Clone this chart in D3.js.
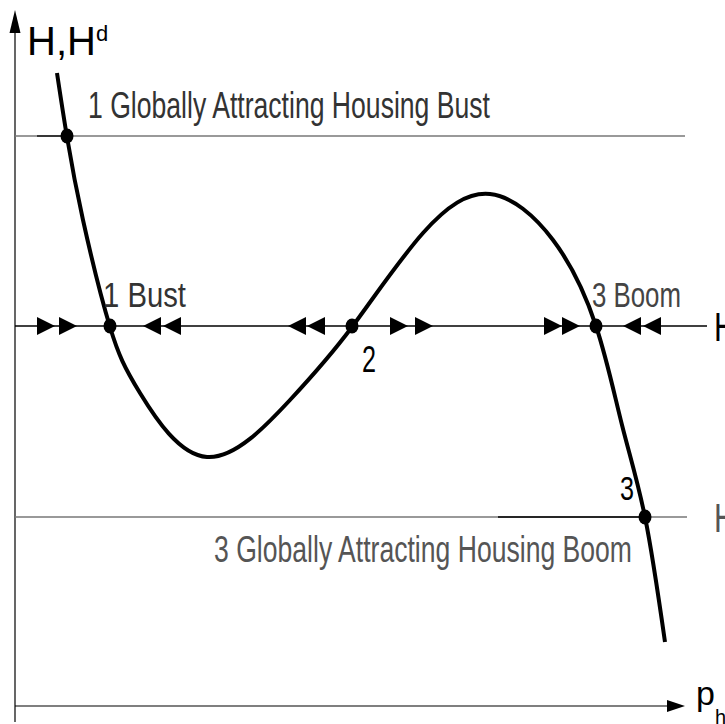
<!DOCTYPE html>
<html>
<head>
<meta charset="utf-8">
<script src="https://cdn.jsdelivr.net/npm/d3@7"></script>
<style>
  body { margin: 0; background: #fff; }
  text { font-family: "Liberation Sans Narrow", "Arial Narrow", "Liberation Sans", sans-serif; }
</style>
</head>
<body>
<div id="chart"></div>
<script>
// schematic curve H^d(p_h) (units: px from the axes)
var curveX = [42, 52, 68, 95, 125, 192, 275, 337, 408, 475, 538, 581, 607, 630, 650];
var curveY = [633, 569, 486, 379, 313, 249, 306, 379, 473, 512, 466, 380, 281, 189, 64];

// the three supply levels
var levelY = [570, 380, 189];
var levelEnd = [670, 692, 672];
var levelColor = ["#777", "#000", "#777"];

// equilibria (intersections)
var eqX = [52, 95, 337, 581, 630];
var eqY = [570, 380, 380, 380, 189];

// arrow tips on the middle line (+1 right, -1 left)
var arrowTip = [40, 62, 128, 148, 273, 292, 393, 418, 547, 565, 608, 628];
var arrowDir = [1, 1, -1, -1, -1, -1, 1, 1, 1, 1, -1, -1];

var w = 725, h = 724;
var x = d3.scaleLinear().domain([0, 670]).range([15, 685]);
var y = d3.scaleLinear().domain([0, 696]).range([706, 10]);

var svg = d3.select("#chart").append("svg")
  .attr("width", w).attr("height", h);

// axes
svg.append("line").attr("x1", x(0)).attr("y1", 722).attr("x2", x(0)).attr("y2", 30)
  .attr("stroke", "#000").attr("stroke-width", 1.2);
svg.append("path").attr("d", "M" + x(0) + ",10 L" + (x(0) - 5.5) + ",33 L" + (x(0) + 5.5) + ",33 Z")
  .attr("fill", "#000");
svg.append("line").attr("x1", x(0)).attr("y1", y(0)).attr("x2", 668).attr("y2", y(0))
  .attr("stroke", "#000").attr("stroke-width", 1.2);
svg.append("path").attr("d", "M685," + y(0) + " L667," + (y(0) - 6) + " L667," + (y(0) + 6) + " Z")
  .attr("fill", "#000");

// horizontal levels
svg.selectAll("line.level").data(levelY).enter().append("line")
  .attr("class", "level")
  .attr("x1", x(0)).attr("x2", function(d, i) { return x(levelEnd[i]); })
  .attr("y1", function(d) { return y(d); }).attr("y2", function(d) { return y(d); })
  .attr("stroke", function(d, i) { return levelColor[i]; })
  .attr("stroke-width", 1.3);
// darker pieces seen on the grey lines
svg.append("line").attr("x1", 37).attr("x2", 66).attr("y1", y(levelY[0])).attr("y2", y(levelY[0]))
  .attr("stroke", "#000").attr("stroke-width", 1.3);
svg.append("line").attr("x1", 498).attr("x2", 645).attr("y1", y(levelY[2])).attr("y2", y(levelY[2]))
  .attr("stroke", "#000").attr("stroke-width", 1.3);

// arrows
svg.selectAll("path.arrow").data(arrowTip).enter().append("path")
  .attr("class", "arrow")
  .attr("d", function(d, i) {
    var tx = x(d), ty = y(levelY[1]), bx = tx - arrowDir[i] * 18;
    return "M" + tx + "," + ty + " L" + bx + "," + (ty - 9) + " L" + bx + "," + (ty + 9) + " Z";
  })
  .attr("fill", "#000");

// curve
var pts = curveX.map(function(d, i) { return [d, curveY[i]]; });
var line = d3.line()
  .x(function(d) { return x(d[0]); })
  .y(function(d) { return y(d[1]); })
  .curve(d3.curveNatural);
svg.append("path").datum(pts).attr("d", line)
  .attr("fill", "none").attr("stroke", "#000").attr("stroke-width", 4);

// equilibrium dots
svg.selectAll("ellipse.eq").data(eqX).enter().append("ellipse")
  .attr("class", "eq")
  .attr("cx", function(d) { return x(d); })
  .attr("cy", function(d, i) { return y(eqY[i]); })
  .attr("rx", 6.5).attr("ry", 7.5)
  .attr("fill", "#000");

// labels
function label(t, px, py, len, size, col) {
  return svg.append("text").attr("x", px).attr("y", py)
    .attr("font-size", size).attr("fill", col)
    .attr("textLength", len).attr("lengthAdjust", "spacingAndGlyphs")
    .text(t);
}
label("1 Globally Attracting Housing Bust", 88, 118, 402, 37, "#333");
label("3 Globally Attracting Housing Boom", 214, 562, 418, 37, "#555");
label("1 Bust", 103, 307, 83, 35, "#333");
label("3 Boom", 592, 307, 89, 35, "#444");
label("2", 362, 372, 14, 37, "#000");
label("3", 620, 500, 14, 33, "#000");
label("H", 714, 341, 22, 40, "#000");
label("H", 714, 532, 22, 40, "#555");

var yl = svg.append("text").attr("x", 27).attr("y", 55).attr("font-size", 40).attr("fill", "#000");
yl.append("tspan").text("H,H");
yl.append("tspan").attr("dy", -14).attr("font-size", 22).text("d");

var xl = svg.append("text").attr("x", 696).attr("y", 705).attr("font-size", 34).attr("fill", "#000");
xl.append("tspan").text("p");
xl.append("tspan").attr("dy", 19).attr("font-size", 20).text("h");
</script>
</body>
</html>
